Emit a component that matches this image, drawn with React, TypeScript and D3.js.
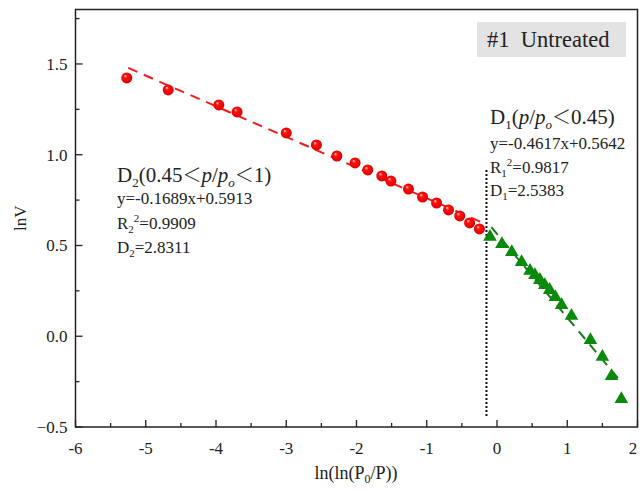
import React, { useEffect, useRef } from 'react';
import * as d3 from 'd3';

// red circles: D2 region (0.45 < p/po < 1)
const redX = [-5.27, -4.68, -3.96, -3.70, -3.00, -2.57, -2.28, -2.02, -1.84, -1.64, -1.51, -1.26, -1.06, -0.86, -0.69, -0.53, -0.39, -0.25];
const redY = [1.423, 1.357, 1.274, 1.236, 1.12, 1.054, 0.993, 0.955, 0.916, 0.883, 0.855, 0.811, 0.767, 0.734, 0.696, 0.663, 0.624, 0.591];
// green triangles: D1 region (p/po < 0.45)
const greenX = [-0.10, 0.07, 0.21, 0.35, 0.47, 0.54, 0.61, 0.68, 0.75, 0.83, 0.92, 1.06, 1.33, 1.50, 1.63, 1.77];
const greenY = [0.547, 0.508, 0.464, 0.409, 0.360, 0.337, 0.310, 0.282, 0.255, 0.216, 0.172, 0.112, -0.021, -0.114, -0.219, -0.346];
// fit lines
const fit2 = { k: -0.1689, b: 0.5913, from: -5.25, to: -0.15 };
const fit1 = { k: -0.4617, b: 0.5642, from: -0.08, to: 1.77 };
const divider = -0.15;
const xTicks = [-6, -5, -4, -3, -2, -1, 0, 1, 2];
const yTicks = [-0.5, 0.0, 0.5, 1.0, 1.5];

const width = 640;
const height = 490;
const font = 'Liberation Serif, DejaVu Serif, serif';
const cjk = 'Noto Sans CJK SC';

const App = () => {
    const ref = useRef<SVGSVGElement>(null);

    useEffect(() => {
        const svg = d3.select(ref.current);
        svg.selectAll('*').remove();

        const x = d3.scaleLinear().domain([-6, 2]).range([75.5, 637.5]);
        const y = d3.scaleLinear().domain([-0.5, 1.8]).range([427, 9.5]);

        const defs = svg.append('defs');
        const grad = defs.append('radialGradient')
            .attr('id', 'ball').attr('cx', '0.5').attr('cy', '0.5').attr('r', '0.55')
            .attr('fx', '0.35').attr('fy', '0.3');
        grad.append('stop').attr('offset', '0%').attr('stop-color', '#ffd0d0');
        grad.append('stop').attr('offset', '30%').attr('stop-color', '#ff1010');
        grad.append('stop').attr('offset', '100%').attr('stop-color', '#d80000');

        // frame
        svg.append('rect')
            .attr('x', x(-6)).attr('y', y(1.8))
            .attr('width', x(2) - x(-6)).attr('height', y(-0.5) - y(1.8))
            .attr('fill', 'none').attr('stroke', '#222').attr('stroke-width', 1.5);

        // ticks point inward
        const xg = svg.append('g').attr('stroke', '#222').attr('stroke-width', 1.3);
        d3.range(-6, 2.01, 0.5).forEach(v => {
            const major = Math.abs(v - Math.round(v)) < 1e-6;
            xg.append('line')
                .attr('x1', x(v)).attr('x2', x(v))
                .attr('y1', y(-0.5)).attr('y2', y(-0.5) - (major ? 7 : 4));
        });
        const yg = svg.append('g').attr('stroke', '#222').attr('stroke-width', 1.3);
        d3.range(-0.5, 1.76, 0.25).forEach(v => {
            const major = Math.abs(v * 2 - Math.round(v * 2)) < 1e-6;
            yg.append('line')
                .attr('x1', x(-6)).attr('x2', x(-6) + (major ? 7 : 4))
                .attr('y1', y(v)).attr('y2', y(v));
        });

        svg.append('g').attr('font-family', font).attr('font-size', 17).attr('fill', '#222')
            .selectAll('text').data(xTicks).join('text')
            .attr('x', d => Math.min(x(d), 633)).attr('y', y(-0.5) + 27)
            .attr('text-anchor', 'middle')
            .text(d => String(d));
        svg.append('g').attr('font-family', font).attr('font-size', 17).attr('fill', '#222')
            .selectAll('text').data(yTicks).join('text')
            .attr('x', x(-6) - 8).attr('y', d => y(d)).attr('dy', '0.35em')
            .attr('text-anchor', 'end')
            .text(d => d3.format('.1f')(d));

        // axis titles
        svg.append('text')
            .attr('transform', `translate(26,${(y(-0.5) + y(1.8)) / 2}) rotate(-90)`)
            .attr('text-anchor', 'middle').attr('font-family', font).attr('font-size', 17).attr('fill', '#222')
            .text('lnV');
        const xt = svg.append('text')
            .attr('x', 356).attr('y', 479).attr('text-anchor', 'middle')
            .attr('font-family', font).attr('font-size', 18).attr('fill', '#222');
        xt.append('tspan').text('ln(ln(P');
        xt.append('tspan').attr('font-size', 12).attr('dy', 4).text('0');
        xt.append('tspan').attr('dy', -4).text('/P))');

        // divider
        svg.append('line')
            .attr('x1', x(divider)).attr('x2', x(divider))
            .attr('y1', 170).attr('y2', 418)
            .attr('stroke', '#111').attr('stroke-width', 2).attr('stroke-dasharray', '2,2');

        // fit lines
        const drawFit = (f: typeof fit1, color: string) => {
            svg.append('path')
                .attr('d', d3.line()([[x(f.from), y(f.k * f.from + f.b)], [x(f.to), y(f.k * f.to + f.b)]]))
                .attr('stroke', color).attr('stroke-width', 2).attr('fill', 'none')
                .attr('stroke-dasharray', '10,7');
        };
        drawFit(fit2, '#ee1c1c');
        drawFit(fit1, '#1a7a1a');

        // red balls
        svg.append('g').selectAll('circle').data(redX).join('circle')
            .attr('cx', d => x(d)).attr('cy', (d, i) => y(redY[i]))
            .attr('r', 5.5).attr('fill', 'url(#ball)');

        // green triangles
        const tri = d3.symbol().type(d3.symbolTriangle).size(80);
        svg.append('g').selectAll('path').data(greenX).join('path')
            .attr('transform', (d, i) => `translate(${x(d)},${y(greenY[i])})`)
            .attr('d', tri()).attr('fill', '#0a8a0a');

        // label box
        svg.append('rect').attr('x', 477).attr('y', 22).attr('width', 149).attr('height', 35).attr('fill', '#e3e3e3');
        svg.append('text').attr('x', 487).attr('y', 47)
            .attr('font-family', font).attr('font-size', 22.5).attr('fill', '#222')
            .style('white-space', 'pre')
            .text('#1  Untreated');

        // annotations
        const head = (x0: number, y0: number, d: string, parts: [string, string][]) => {
            const t = svg.append('text').attr('x', x0).attr('y', y0)
                .attr('font-family', font).attr('font-size', 21).attr('fill', '#222');
            t.append('tspan').text('D');
            t.append('tspan').attr('font-size', 13).attr('dy', 5).text(d);
            let shift = -5;
            parts.forEach(([kind, s]) => {
                const sp = t.append('tspan').text(s);
                if (kind === 'i') sp.attr('font-style', 'italic');
                if (kind === 'c') sp.attr('font-family', cjk).attr('font-weight', 300).attr('font-size', 19);
                if (kind === 'o') { sp.attr('font-style', 'italic').attr('font-size', 13).attr('dy', 5 + shift); shift = -5; return; }
                if (shift) { sp.attr('dy', shift); shift = 0; }
            });
        };
        const eqs = (x0: number, ys: number[], n: string, eq: string, r2: string, dv: string) => {
            const g = svg.append('g').attr('font-family', font).attr('font-size', 17).attr('fill', '#222');
            g.append('text').attr('x', x0).attr('y', ys[0]).text(eq);
            const r = g.append('text').attr('x', x0).attr('y', ys[1]);
            r.append('tspan').text('R');
            r.append('tspan').attr('font-size', 11).attr('dy', 4).text(n);
            r.append('tspan').attr('font-size', 11).attr('dy', -11).text('2');
            r.append('tspan').attr('dy', 7).text('=' + r2);
            const dd = g.append('text').attr('x', x0).attr('y', ys[2]);
            dd.append('tspan').text('D');
            dd.append('tspan').attr('font-size', 11).attr('dy', 4).text(n);
            dd.append('tspan').attr('dy', -4).text('=' + dv);
        };

        head(117, 182, '2', [['n', '(0.45'], ['c', '＜'], ['i', 'p'], ['n', '/'], ['i', 'p'], ['o', 'o'], ['c', '＜'], ['n', '1)']]);
        eqs(117, [204, 229, 253], '2', 'y=-0.1689x+0.5913', '0.9909', '2.8311');
        head(490, 124, '1', [['n', '('], ['i', 'p'], ['n', '/'], ['i', 'p'], ['o', 'o'], ['c', '＜'], ['n', '0.45)']]);
        eqs(490, [149, 173, 196], '1', 'y=-0.4617x+0.5642', '0.9817', '2.5383');
    }, []);

    return (
        <svg ref={ref} width={width} height={height}
            style={{ position: 'absolute', left: 0, top: 0, background: '#fff' }} />
    );
};

export default App;
